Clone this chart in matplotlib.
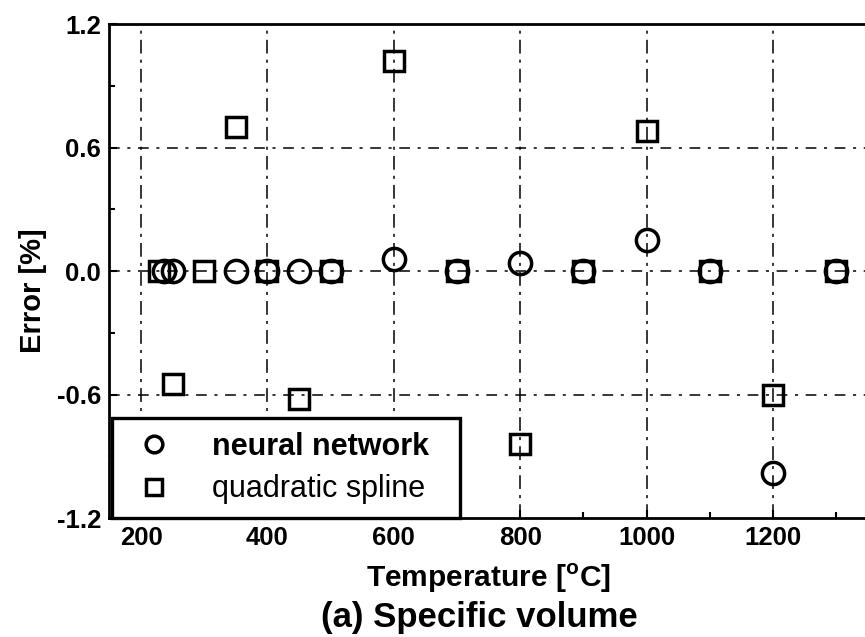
import matplotlib
matplotlib.use("Agg")
import matplotlib.pyplot as plt
from matplotlib.ticker import MultipleLocator

plt.rcParams['font.family'] = ['Liberation Sans', 'DejaVu Sans']

# Data
nn_temp = [237, 250, 350, 400, 450, 500, 600, 700, 800, 900, 1000, 1100, 1200, 1300]
nn_err = [0.0, 0.0, 0.0, 0.0, 0.0, 0.0, 0.06, 0.0, 0.04, 0.0, 0.15, 0.0, -0.98, 0.0]

qs_temp = [228, 250, 300, 350, 400, 450, 500, 600, 700, 800, 900, 1000, 1100, 1200, 1300]
qs_err = [0.0, -0.55, 0.0, 0.70, 0.0, -0.62, 0.0, 1.02, 0.0, -0.84, 0.0, 0.68, 0.0, -0.60, 0.0]

x_ticks = [200, 400, 600, 800, 1000, 1200]
y_ticks = [-1.2, -0.6, 0.0, 0.6, 1.2]
y_tick_labels = ['-1.2', '-0.6', '0.0', '0.6', '1.2']

fig = plt.figure(figsize=(8.65, 6.37), dpi=100)
ax = fig.add_axes([0.1265, 0.1868, 0.8768, 0.7755])

# grid lines
for xv in x_ticks:
    ax.axvline(xv, color='black', lw=1.1, ls=(0, (9, 4, 2, 4)), zorder=1)
for yv in [-0.6, 0.0, 0.6]:
    ax.axhline(yv, color='black', lw=1.1, ls=(0, (7, 5, 2, 5)), zorder=1)

ax.plot(nn_temp, nn_err, ls='none', marker='o', ms=16, mfc='none', mec='black',
        mew=2.5, label='neural network  ', zorder=3)
ax.plot(qs_temp, qs_err, ls='none', marker='s', ms=15, mfc='none', mec='black',
        mew=2.5, label='quadratic spline  ', zorder=3)

ax.set_xlim(150, 1350)
ax.set_ylim(-1.2, 1.2)
ax.set_xticks(x_ticks)
ax.set_yticks(y_ticks)
ax.set_yticklabels(y_tick_labels)
ax.xaxis.set_minor_locator(MultipleLocator(100))
ax.yaxis.set_minor_locator(MultipleLocator(0.3))
ax.tick_params(which='both', direction='in', width=1.5)
ax.tick_params(which='major', length=6, labelsize=18.5, pad=6)
ax.tick_params(which='minor', length=4)
for lab in ax.get_xticklabels() + ax.get_yticklabels():
    lab.set_fontweight('bold')
for s in ax.spines.values():
    s.set_linewidth(2)

ax.set_xlabel('Temperature [$^{\\mathregular{o}}$C]', fontsize=21.5, fontweight='bold', labelpad=8)
ax.set_ylabel('Error [%]', fontsize=21, fontweight='bold')
ax.yaxis.set_label_coords(-0.082, 0.46)

leg = ax.legend(loc='lower left', fontsize=22, frameon=True, fancybox=False,
                edgecolor='black', borderaxespad=0.0, bbox_to_anchor=(0.004, 0.0),
                markerscale=0.75, handletextpad=1.0, labelspacing=0.4,
                borderpad=0.45, handlelength=1.8)
leg.get_frame().set_linewidth(2.4)
leg.get_frame().set_alpha(1)
leg.get_texts()[0].set_fontweight('bold')

fig.text(0.554, 0.031, '(a) Specific volume', fontsize=25, fontweight='bold',
         ha='center', va='center')

fig.savefig('out.png', dpi=100)
